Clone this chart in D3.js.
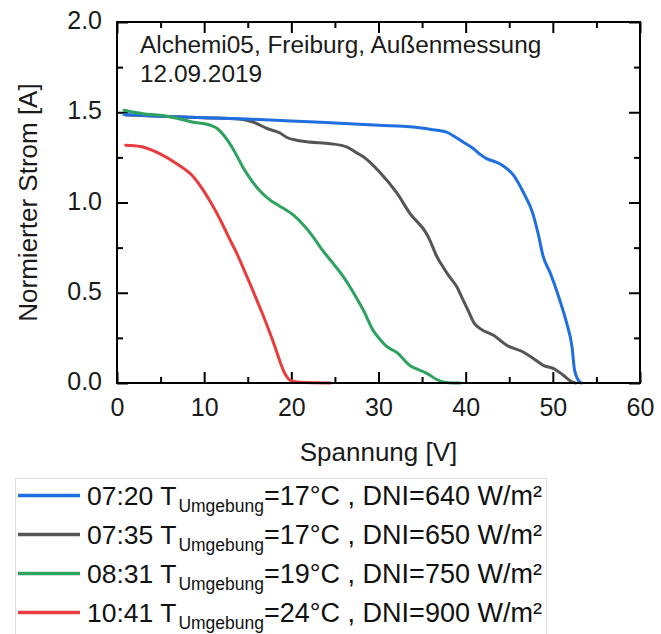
<!DOCTYPE html>
<html><head><meta charset="utf-8">
<script src="https://cdn.jsdelivr.net/npm/d3@7/dist/d3.min.js"></script>
<style>
html,body{margin:0;padding:0;background:#fff;}
svg{display:block;font-family:"Liberation Sans",Arial,Helvetica,sans-serif;}
</style></head>
<body><svg id="chart" width="661" height="634"></svg>
<script>
// ---- data ----
const xTicks = [0, 10, 20, 30, 40, 50, 60];
const xMinor = [5, 15, 25, 35, 45, 55];
const yTicks = [0.0, 0.5, 1.0, 1.5, 2.0];
const yMinor = [0.25, 0.75, 1.25, 1.75];

const seriesNames = ["07:20", "07:35", "08:31", "10:41"];
const seriesTemp = ["17", "17", "19", "24"];
const seriesDNI = ["640", "650", "750", "900"];
const seriesColors = ["#1f6fe0", "#555555", "#2ea25e", "#e93c3e"];

const curve0720 = [[0.8,1.487],[5,1.478],[10,1.470],[15,1.462],[20,1.452],[25,1.440],[30,1.428],[34,1.418],[36,1.405],[37.8,1.39],[39,1.357],[39.7,1.335],[40.9,1.298],[41.7,1.265],[42.4,1.243],[43.9,1.215],[45.5,1.15],[46.6,1.058],[47.7,0.94],[48.3,0.83],[48.9,0.70],[49.7,0.61],[50.8,0.458],[51.6,0.33],[52.2,0.20],[52.5,0.07],[53.1,0.005],[53.3,0]];
const curve0735 = [[1,1.485],[5,1.478],[10,1.470],[14,1.463],[15.6,1.446],[17.2,1.41],[18.7,1.385],[19.5,1.36],[20.6,1.345],[22,1.335],[24.5,1.326],[26.4,1.307],[27.5,1.275],[28.3,1.252],[30.2,1.165],[32.1,1.053],[33.6,0.94],[35.5,0.828],[35.9,0.79],[36.7,0.70],[37.4,0.643],[38.2,0.585],[39,0.532],[39.7,0.46],[40.3,0.40],[41.0,0.33],[41.7,0.30],[43.2,0.264],[44.7,0.209],[46.6,0.172],[47.8,0.135],[48.9,0.098],[50.1,0.08],[51.2,0.043],[52.2,0.006],[52.6,0]];
const curve0831 = [[0.8,1.511],[3,1.492],[5,1.483],[7,1.465],[8.6,1.446],[10.7,1.428],[11.5,1.41],[12.2,1.375],[13.4,1.29],[14.4,1.2],[14.9,1.16],[16.2,1.075],[17.6,1.012],[18.5,0.985],[20.25,0.93],[21.5,0.87],[22.5,0.81],[23.5,0.74],[24.5,0.68],[26,0.587],[27.5,0.47],[28.3,0.40],[29.4,0.29],[30.2,0.24],[31.0,0.20],[32.1,0.17],[33.4,0.105],[35.5,0.055],[37.1,0.01],[38,0.002],[39.4,0]];
const curve1041 = [[1,1.317],[2.7,1.31],[4,1.29],[5,1.268],[6.9,1.213],[8.8,1.14],[10,1.06],[10.7,1.005],[12.2,0.87],[13,0.79],[13.8,0.712],[14.5,0.635],[15.3,0.545],[16.05,0.458],[16.8,0.37],[17.5,0.283],[18.2,0.19],[18.8,0.105],[19.3,0.048],[19.9,0.015],[21,0.004],[24.5,0]];
const curves = [curve0720, curve0735, curve0831, curve1041];

const annotation = ["Alchemi05, Freiburg, Außenmessung", "12.09.2019"];
const xLabel = "Spannung [V]";
const yLabel = "Normierter Strom [A]";

// ---- layout ----
const svg = d3.select("#chart");
const L = 117, R = 640, T = 22, B = 383;
const x = d3.scaleLinear().domain([0, 60]).range([L, R]);
const y = d3.scaleLinear().domain([0, 2]).range([B, T]);

function styleAxis(g) {
  g.select(".domain").remove();
  g.selectAll(".tick line").attr("stroke", "#000").attr("stroke-width", 2);
  g.selectAll(".tick text").attr("fill", "#1a1a1a").style("font-size", "25px")
    .style("font-family", '"Liberation Sans",Arial,sans-serif');
}

// bottom
svg.append("g").attr("transform", `translate(0,${B})`)
  .call(d3.axisBottom(x).tickValues(xTicks).tickSize(-11).tickPadding(15).tickFormat(d3.format("d")))
  .call(styleAxis);
svg.append("g").attr("transform", `translate(0,${B})`)
  .call(d3.axisBottom(x).tickValues(xMinor).tickSize(-6).tickFormat(""))
  .call(styleAxis);
// top
svg.append("g").attr("transform", `translate(0,${T})`)
  .call(d3.axisTop(x).tickValues(xTicks).tickSize(-11).tickFormat(""))
  .call(styleAxis);
svg.append("g").attr("transform", `translate(0,${T})`)
  .call(d3.axisTop(x).tickValues(xMinor).tickSize(-6).tickFormat(""))
  .call(styleAxis);
// left
svg.append("g").attr("transform", `translate(${L},0)`)
  .call(d3.axisLeft(y).tickValues(yTicks).tickSize(-11).tickPadding(15).tickFormat(d3.format(".1f")))
  .call(styleAxis)
  .selectAll(".tick text").attr("dy", "0.26em");
svg.append("g").attr("transform", `translate(${L},0)`)
  .call(d3.axisLeft(y).tickValues(yMinor).tickSize(-6).tickFormat(""))
  .call(styleAxis);
// right
svg.append("g").attr("transform", `translate(${R},0)`)
  .call(d3.axisRight(y).tickValues(yTicks).tickSize(-11).tickFormat(""))
  .call(styleAxis);
svg.append("g").attr("transform", `translate(${R},0)`)
  .call(d3.axisRight(y).tickValues(yMinor).tickSize(-6).tickFormat(""))
  .call(styleAxis);

// curves (draw order: gray, blue, green, red)
const line = d3.line().x(d => x(d[0])).y(d => y(d[1])).curve(d3.curveMonotoneX);
svg.append("clipPath").attr("id", "clip").append("rect")
  .attr("x", L).attr("y", T).attr("width", R - L).attr("height", B - T + 2);
const order = [1, 0, 2, 3];
const plot = svg.append("g").attr("clip-path", "url(#clip)");
order.forEach(i => {
  plot.append("path").datum(curves[i]).attr("d", line)
    .attr("fill", "none").attr("stroke", seriesColors[i]).attr("stroke-width", 3)
    .attr("stroke-linejoin", "round").attr("stroke-linecap", "round");
});

// frame
svg.append("rect").attr("x", L).attr("y", T).attr("width", R - L).attr("height", B - T)
  .attr("fill", "none").attr("stroke", "#000").attr("stroke-width", 2);

// annotation
annotation.forEach((t, i) => {
  svg.append("text").attr("x", 140).attr("y", 53 + i * 29).text(t)
    .attr("fill", "#1a1a1a").style("font-size", "24.4px");
});

// axis titles
svg.append("text").attr("x", (L + R) / 2).attr("y", 461).attr("text-anchor", "middle")
  .attr("fill", "#1a1a1a").style("font-size", "26px").text(xLabel);
svg.append("text").attr("transform", `translate(37,${(T + B) / 2}) rotate(-90)`)
  .attr("text-anchor", "middle").attr("fill", "#1a1a1a").style("font-size", "26px").text(yLabel);

// legend
svg.append("rect").attr("x", 15.5).attr("y", 478.5).attr("width", 531).attr("height", 170)
  .attr("fill", "#fff").attr("stroke", "#dcdcdc").attr("stroke-width", 1);
seriesNames.forEach((n, i) => {
  const by = 505 + i * 39;
  svg.append("line").attr("x1", 18).attr("x2", 80).attr("y1", by - 9.5).attr("y2", by - 9.5)
    .attr("stroke", seriesColors[i]).attr("stroke-width", 3.5);
  const t = svg.append("text").attr("x", 87).attr("y", by).attr("fill", "#111").style("font-size", "26.5px");
  t.append("tspan").text(n + " T");
  t.append("tspan").attr("dx", 2).attr("dy", 7).style("font-size", "17.5px").text("Umgebung");
  t.append("tspan").attr("dy", -7).style("font-size", "27px").text("=" + seriesTemp[i] + "°C , DNI=" + seriesDNI[i] + " W/m²");
});
</script></body></html>
